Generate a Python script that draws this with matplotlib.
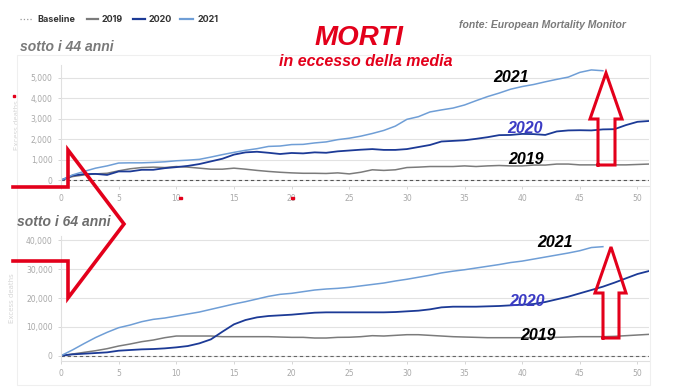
import matplotlib.pyplot as plt
from matplotlib.ticker import FuncFormatter
import numpy as np

W, H = 686, 387

# Weekly cumulative excess deaths
weeks = list(range(52))
weeks_2021 = list(range(48))

u44_2019 = [0, 180, 260, 310, 340, 460, 560, 620, 640, 620, 670, 640, 590, 540, 540, 590,
            540, 480, 430, 390, 360, 340, 340, 330, 360, 310, 390, 510, 480, 510, 620, 640,
            670, 670, 670, 700, 670, 700, 720, 700, 700, 740, 740, 790, 790, 750, 750, 750,
            750, 750, 770, 790]
u44_2020 = [0, 230, 300, 310, 260, 430, 430, 510, 510, 590, 640, 700, 790, 920, 1050, 1250,
            1360, 1390, 1340, 1280, 1330, 1310, 1360, 1340, 1410, 1450, 1490, 1520, 1480, 1480,
            1520, 1620, 1720, 1890, 1920, 1950, 2020, 2100, 2200, 2210, 2260, 2250, 2210, 2380,
            2430, 2440, 2430, 2480, 2490, 2690, 2850, 2890]
u44_2021 = [0, 260, 430, 590, 700, 840, 850, 850, 870, 900, 950, 980, 1020, 1130, 1250, 1360,
            1460, 1540, 1650, 1670, 1740, 1750, 1820, 1870, 1980, 2050, 2150, 2280, 2430, 2640,
            2970, 3100, 3330, 3430, 3520, 3670, 3880, 4080, 4250, 4440, 4570, 4670, 4800, 4920,
            5030, 5260, 5380, 5340]

u64_2019 = [0, 580, 1160, 1730, 2430, 3350, 4050, 4860, 5430, 6240, 6820, 6820, 6820, 6820,
            6590, 6590, 6590, 6590, 6590, 6470, 6360, 6360, 6130, 6130, 6360, 6400, 6590, 6940,
            6820, 7050, 7280, 7280, 7050, 6820, 6590, 6470, 6360, 6240, 6240, 6240, 6240, 6240,
            6240, 6360, 6470, 6590, 6590, 6590, 6710, 6940, 7170, 7400]
u64_2020 = [0, 460, 690, 920, 1160, 1730, 1970, 2200, 2310, 2540, 2890, 3350, 4280, 5660,
            8320, 10870, 12370, 13290, 13760, 13990, 14220, 14570, 14910, 15030, 15030, 15030,
            15030, 15030, 15030, 15140, 15380, 15610, 16070, 16760, 16990, 16990, 16990, 17110,
            17230, 17460, 17690, 17920, 18610, 19540, 20460, 21620, 22770, 23930, 25320, 26820,
            28320, 29360]
u64_2021 = [0, 2000, 4200, 6300, 8100, 9700, 10640, 11790, 12600, 13060, 13760, 14450, 15140,
            16070, 16990, 17920, 18730, 19650, 20580, 21270, 21620, 22200, 22770, 23120, 23350,
            23700, 24200, 24700, 25200, 25900, 26500, 27200, 27900, 28700, 29300, 29800, 30400,
            31000, 31600, 32300, 32800, 33500, 34200, 34900, 35600, 36400, 37500, 37800]

legend_labels = ['Baseline', '2019', '2020', '2021']

C19 = '#7b7b7b'
C20 = '#1c3a96'
C21 = '#6f9ed6'
RED = '#e3001b'
TICK = '#a8a8a8'


def fx(x):
    return x / W


def fy(y):
    return 1 - y / H


def style_axes(ax, yticks):
    ax.set_xlim(0, 51)
    ax.set_xticks(range(0, 51, 5))
    ax.set_yticks(yticks)
    ax.yaxis.set_major_formatter(FuncFormatter(lambda v, p: '{:,.0f}'.format(v)))
    ax.grid(axis='y', color='#e2e2e2', linewidth=0.8)
    ax.set_axisbelow(True)
    for s in ['top', 'right']:
        ax.spines[s].set_visible(False)
    for s in ['left', 'bottom']:
        ax.spines[s].set_color('#e0e0e0')
        ax.spines[s].set_linewidth(0.8)
    ax.tick_params(colors='#d0d0d0', labelcolor=TICK, labelsize=5.5, length=2.5, width=0.6)
    ax.set_ylabel('Excess deaths', fontsize=5, color='#d6d6d6', labelpad=8)


fig = plt.figure(figsize=(W / 100, H / 100), dpi=100)

# panel frames
fig.patches.append(plt.Rectangle((fx(17), fy(385)), fx(650 - 17), (385 - 55) / H,
                                 transform=fig.transFigure, fill=False,
                                 edgecolor='#efefef', linewidth=0.8))

ax1 = fig.add_axes([fx(61), fy(186), (649 - 61) / W, (186 - 65) / H])
ax1.set_ylim(-280, 5620)
style_axes(ax1, range(0, 5001, 1000))
ax1.axhline(0, color='#555555', linestyle=(0, (3, 2.5)), linewidth=0.8)
ax1.plot(weeks, u44_2019, color=C19, linewidth=1.1)
ax1.plot(weeks, u44_2020, color=C20, linewidth=1.3)
ax1.plot(weeks_2021, u44_2021, color=C21, linewidth=1.1)

ax2 = fig.add_axes([fx(61), fy(361), (649 - 61) / W, (361 - 236) / H])
ax2.set_ylim(-1840, 41500)
style_axes(ax2, range(0, 40001, 10000))
ax2.axhline(0, color='#666666', linestyle=(0, (3, 2.5)), linewidth=0.8)
ax2.plot(weeks, u64_2019, color=C19, linewidth=1.1)
ax2.plot(weeks, u64_2020, color=C20, linewidth=1.3)
ax2.plot(weeks_2021, u64_2021, color=C21, linewidth=1.1)

# legend, drawn by hand at the top left
leg_y = fy(19)
items = [(20, 33, 37, ':', '#999999'), (87, 98, 102, '-', C19),
         (133, 145, 149, '-', C20), (180, 193, 198, '-', C21)]
for (x0, x1, xt, ls, c), lab in zip(items, legend_labels):
    fig.lines.append(plt.Line2D([fx(x0), fx(x1)], [leg_y, leg_y], transform=fig.transFigure,
                                color=c, linestyle=ls, linewidth=1.6 if ls == '-' else 0.9))
    fig.text(fx(xt), leg_y, lab, fontsize=6.5, fontweight='bold', color='#333333',
             va='center', ha='left', family='Inter')

fig.text(fx(20), fy(47), 'sotto i 44 anni', fontsize=10, fontweight='bold', style='italic',
         color='#7a7a7a', va='center', family='Liberation Sans')
fig.text(fx(17), fy(222), 'sotto i 64 anni', fontsize=10, fontweight='bold', style='italic',
         color='#6e6e6e', va='center', family='Liberation Sans')
fig.text(fx(359), fy(38), 'MORTI', fontsize=20, fontweight='bold', style='italic',
         color=RED, ha='center', va='center', family='Liberation Sans')
fig.text(fx(366), fy(62), 'in eccesso della media', fontsize=11.5, fontweight='bold',
         style='italic', color=RED, ha='center', va='center', family='Liberation Sans')
fig.text(fx(542), fy(25), 'fonte: European Mortality Monitor', fontsize=7.5, fontweight='bold',
         style='italic', color='#7a7a7a', ha='center', va='center', family='Liberation Sans')

year_labels = [(511, 78, '2021', 'black'), (525, 129, '2020', '#3b3bc4'),
               (526, 159, '2019', 'black'), (555, 242, '2021', 'black'),
               (527, 301, '2020', '#3b3bc4'), (538, 336, '2019', 'black')]
for x, y, t, c in year_labels:
    fig.text(fx(x), fy(y), t, fontsize=11.5, fontweight='bold', style='italic', color=c,
             ha='center', va='center', family='Liberation Sans')


def up_arrow(tip_x, tip_y, head_l, head_r, head_y, sh_l, sh_r, bot_y):
    pts = [(sh_l, bot_y), (sh_l, head_y), (head_l, head_y), (tip_x, tip_y),
           (head_r, head_y), (sh_r, head_y), (sh_r, bot_y), (sh_l, bot_y)]
    fig.lines.append(plt.Line2D([fx(p[0]) for p in pts], [fy(p[1]) for p in pts],
                                transform=fig.transFigure, color=RED, linewidth=2.2,
                                solid_joinstyle='miter'))


up_arrow(606, 73, 590, 622, 119, 598, 615, 165)
up_arrow(611, 247, 595, 626, 293, 603, 619, 338)

# big chevron on the left
chev = [(13, 187), (68, 187), (68, 150), (124, 224), (68, 298), (68, 261), (13, 261)]
fig.lines.append(plt.Line2D([fx(p[0]) for p in chev], [fy(p[1]) for p in chev],
                            transform=fig.transFigure, color=RED, linewidth=2.6,
                            solid_joinstyle='miter'))

# small red marks
for x, y in [(14, 96), (180, 198), (292, 198)]:
    fig.patches.append(plt.Rectangle((fx(x - 1), fy(y + 1)), 2.5 / W, 2.5 / H,
                                     transform=fig.transFigure, color=RED))

fig.savefig('out.png', dpi=100)
